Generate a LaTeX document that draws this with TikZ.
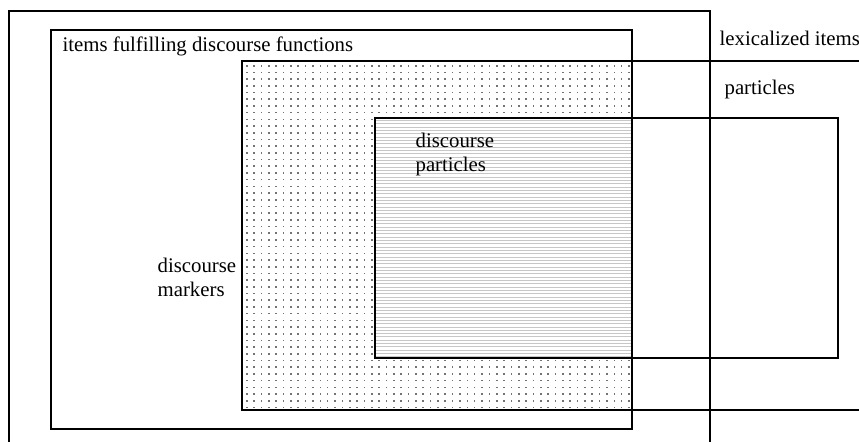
\documentclass[tikz,border=0pt]{standalone}
\usepackage{fontspec}
\setmainfont{Liberation Serif}
\usetikzlibrary{calc}

\begin{document}
\begin{tikzpicture}[x=0.5pt, y=-0.5pt, line width=0.6pt,
  setlabel/.style={anchor=base west, inner sep=0pt, font=\fontsize{10.4}{12.3}\selectfont, align=left}]
  \useasboundingbox (0,0) rectangle (859,442);
  % lexicalized items (open at bottom)
  \coordinate (LexA) at (9,442);
  \coordinate (LexB) at (9,11);
  \coordinate (LexC) at (710,11);
  \coordinate (LexD) at (710,442);
  % items fulfilling discourse functions
  \coordinate (FunA) at (51,30);
  \coordinate (FunB) at (632,429);
  % particles (runs off to the right)
  \coordinate (PartA) at (242,61);
  \coordinate (PartB) at (632,410);
  % inner box
  \coordinate (DpA) at (375,118);
  \coordinate (DpB) at (838,358);

  % dotted region
  \foreach \i in {0,...,52}
    \foreach \j in {0,...,51}
      \fill[black!55] ({246+\i*7.35},{65+\j*6.7}) rectangle ++(1.6,1.6);
  % hatched region
  \fill[white] (DpA) rectangle (PartB |- DpB);
  \foreach \k in {0,...,71}
    \draw[black!22, line width=0.45pt] ({375},{120.5+\k*3.33}) -- (632,{120.5+\k*3.33});

  \draw (LexA) -- (LexB) -- (LexC) -- (LexD);
  \draw (FunA) rectangle (FunB);
  \draw (PartB -| 859,0) -- (PartB);
  \draw (PartA -| 859,0) -- (PartA -| PartB);
  \draw[line width=1.1pt] (PartA) rectangle (PartB);
  \draw (DpA) rectangle (DpB);

  \node[setlabel] (lexlabel) at (719,46) {lexicalized items};
  \node[setlabel] (funlabel) at (62,52) {items fulfilling discourse functions};
  \node[setlabel] (partlabel) at (724,95) {particles};
  \node[setlabel] (dplabel) at (415,172) {discourse\\particles};
  \node[setlabel] (dmlabel) at (157,297) {discourse\\markers};
\end{tikzpicture}
\end{document}
